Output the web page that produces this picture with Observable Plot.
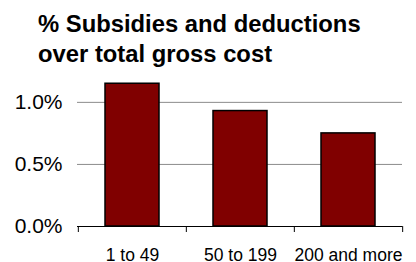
<!DOCTYPE html>
<html>
<head>
<meta charset="utf-8">
<script src="https://cdn.jsdelivr.net/npm/d3@7"></script>
<script src="https://cdn.jsdelivr.net/npm/@observablehq/plot@0.6"></script>
<style>
  html, body { margin: 0; padding: 0; background: #fff; }
  #wrap { width: 416px; height: 262px; overflow: hidden; font-family: "Liberation Sans", Arial, sans-serif; }
  #title { height: 72px; box-sizing: border-box; padding: 9px 0 0 38px; font-weight: bold; font-size: 23.8px; line-height: 29.5px; color: #000; white-space: nowrap; }
  svg { display: block; overflow: visible; }
</style>
</head>
<body>
<div id="wrap">
  <div id="title">% Subsidies and deductions<br>over total gross cost</div>
  <div id="chart"></div>
</div>
<script>
const categories = ["1 to 49", "50 to 199", "200 and more"];
const values = [0.0115, 0.0093, 0.0075];
const yTicks = [0, 0.005, 0.01];

const data = categories.map((c, i) => ({category: c, value: values[i]}));

const W = 416, H = 190, ML = 77, MR = 14, MT = 10, MB = 36;
const step = (W - ML - MR) / categories.length;

const chart = Plot.plot({
  width: W,
  height: H,
  marginLeft: ML,
  marginRight: MR,
  marginTop: MT,
  marginBottom: MB,
  style: {fontFamily: "'Liberation Sans', Arial, sans-serif", color: "#000", background: "#fff"},
  x: {domain: categories, paddingInner: 0.5, paddingOuter: 0.25, axis: null},
  y: {domain: [0, 0.0116], axis: null},
  marks: [
    Plot.gridY(yTicks.filter(d => d > 0), {stroke: "#8c8c8c", strokeOpacity: 1, strokeWidth: 1}),
    Plot.barY(data, {x: "category", y: "value", fill: "#800000", stroke: "#000", strokeWidth: 1.5}),
    Plot.ruleY([0], {stroke: "#000", strokeWidth: 1}),
    Plot.ruleX(categories, {x: d => d, y1: 0, y2: 0, insetBottom: -6, dx: -step / 2, stroke: "#000"}),
    Plot.ruleX(categories.slice(-1), {x: d => d, y1: 0, y2: 0, insetBottom: -6, dx: step / 2, stroke: "#000"}),
    Plot.axisY(yTicks, {tickSize: 0, tickPadding: 15, tickFormat: d3.format(".1%"), fontSize: 21, fill: "#000", label: null}),
    Plot.axisX({tickSize: 0, tickPadding: 22, fontSize: 17.5, fill: "#000", label: null})
  ]
});
document.getElementById("chart").appendChild(chart);
</script>
</body>
</html>
